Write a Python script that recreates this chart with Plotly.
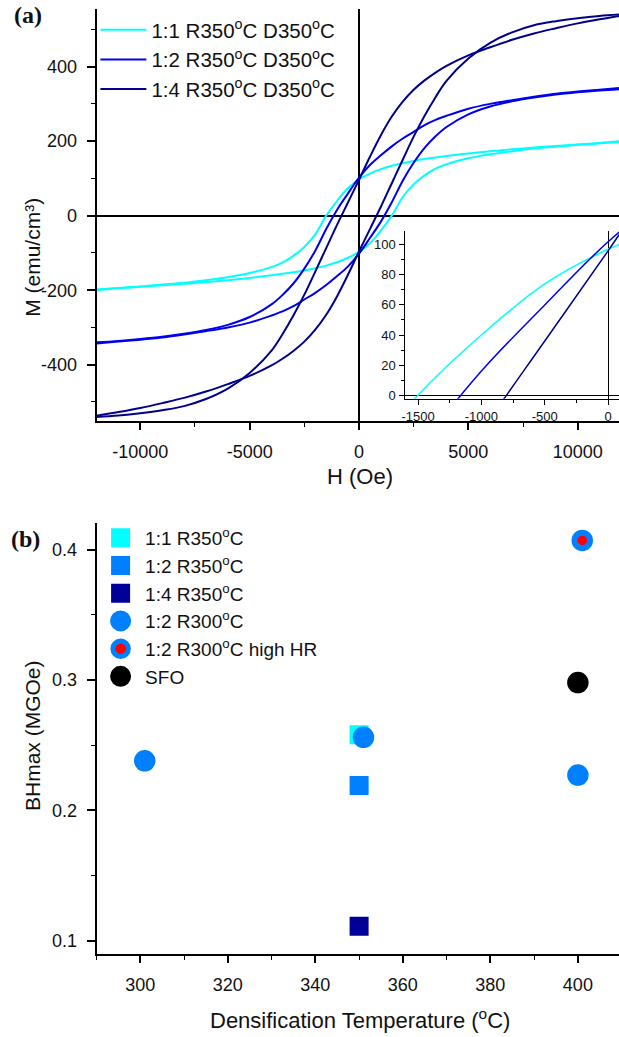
import plotly.graph_objects as go

# ---------------- data: panel (a) hysteresis loops ----------------
H_OE = [-12000, -11000, -10000, -9000, -8000, -7000, -6000, -5000, -4000, -3500, -3000, -2500,
        -2000, -1500, -1000, -500, 0, 500, 1000, 1500, 2000, 2500, 3000, 3500, 4000,
        5000, 6000, 7000, 8000, 9000, 10000, 11000, 12000]

# descending branch (field swept from +12 kOe to -12 kOe), listed in H_OE order
M_11_DOWN = [-198, -194, -190, -185, -180, -173, -165, -154, -138, -126, -108, -84,
             -50, 0, 40, 74, 97, 113, 125, 134, 141, 147, 152, 156, 160,
             167, 173, 178, 183, 187, 191, 195, 200]
M_12_DOWN = [-340, -336, -331, -325, -317, -307, -293, -272, -238, -213, -182, -142,
             -94, -36, 16, 60, 102, 136, 162, 186, 207, 225, 243, 257, 268,
             287, 300, 310, 319, 327, 333, 338, 343]
M_14_DOWN = [-540, -536, -530, -522, -511, -492, -464, -422, -362, -318, -268, -212,
             -150, -87, -24, 36, 96, 158, 216, 266, 306, 338, 363, 384, 402,
             430, 452, 472, 489, 503, 516, 527, 537]
# ascending branch (field swept from -12 kOe to +12 kOe), listed in H_OE order
M_11_UP = [-200, -195, -191, -187, -183, -178, -173, -167, -160, -156, -152, -147,
           -141, -134, -125, -113, -97, -74, -40, 0, 50, 84, 108, 126, 138,
           154, 165, 173, 180, 185, 190, 194, 198]
M_12_UP = [-343, -338, -333, -327, -319, -310, -300, -287, -268, -257, -243, -225,
           -207, -186, -162, -136, -102, -60, -16, 36, 94, 142, 182, 213, 238,
           272, 293, 307, 317, 325, 331, 336, 340]
M_14_UP = [-537, -527, -516, -503, -489, -472, -452, -430, -402, -384, -363, -338,
           -306, -266, -216, -158, -96, -36, 24, 87, 150, 212, 268, 318, 362,
           422, 464, 492, 511, 522, 530, 536, 540]

LOOP_NAMES = ["1:1 R350<sup>o</sup>C D350<sup>o</sup>C",
              "1:2 R350<sup>o</sup>C D350<sup>o</sup>C",
              "1:4 R350<sup>o</sup>C D350<sup>o</sup>C"]
LOOP_COLORS = ["#00FFFF", "#0000F0", "#00008B"]

# tick labels
A_X_TICKS = [-10000, -5000, 0, 5000, 10000]
A_X_LABELS = ["-10000", "-5000", "0", "5000", "10000"]
A_Y_TICKS = [-400, -200, 0, 200, 400]
A_Y_LABELS = ["-400", "-200", "0", "200", "400"]
INSET_X_TICKS = [-1500, -1000, -500, 0]
INSET_X_LABELS = ["-1500", "-1000", "-500", "0"]
INSET_Y_TICKS = [0, 20, 40, 60, 80, 100]

# ---------------- data: panel (b) BHmax ----------------
T_11_R350 = [350];            BH_11_R350 = [0.258]
T_12_R350 = [350];            BH_12_R350 = [0.219]
T_14_R350 = [350];            BH_14_R350 = [0.111]
T_12_R300 = [301, 351, 400];  BH_12_R300 = [0.238, 0.256, 0.227]
T_12_R300_HR = [401];         BH_12_R300_HR = [0.407]
T_SFO = [400];                BH_SFO = [0.298]

W, HGT = 619, 1037
FONT = "Liberation Sans, Arial, sans-serif"
TXT = "#111111"


def fx(p):
    return p / W


def fy(p):
    return 1 - p / HGT


fig = go.Figure()

downs = [M_11_DOWN, M_12_DOWN, M_14_DOWN]
ups = [M_11_UP, M_12_UP, M_14_UP]
for name, col, down, up in zip(LOOP_NAMES, LOOP_COLORS, downs, ups):
    xs = H_OE[::-1] + [None] + H_OE
    ys = down[::-1] + [None] + up
    fig.add_trace(go.Scatter(x=xs, y=ys, mode="lines", name=name,
                             line=dict(color=col, width=2, shape="spline", smoothing=1.0),
                             xaxis="x", yaxis="y", legend="legend"))

# inset: descending branch near the coercive field
for col, down in zip(LOOP_COLORS, downs):
    fig.add_trace(go.Scatter(x=H_OE, y=down, mode="lines", showlegend=False,
                             line=dict(color=col, width=1.5, shape="spline", smoothing=1.0),
                             xaxis="x3", yaxis="y3"))


def pts(x, y, name, symbol, color, size, lcolor=None, lw=5):
    return go.Scatter(x=x, y=y, mode="markers", name=name,
                      marker=dict(symbol=symbol, color=color, size=size,
                                  line=dict(color=lcolor or color, width=lw)),
                      xaxis="x2", yaxis="y2", legend="legend2")


fig.add_trace(pts(T_11_R350, BH_11_R350, "1:1 R350<sup>o</sup>C", "square", "#00FFFF", 14))
fig.add_trace(pts(T_12_R350, BH_12_R350, "1:2 R350<sup>o</sup>C", "square", "#0080FF", 14))
fig.add_trace(pts(T_14_R350, BH_14_R350, "1:4 R350<sup>o</sup>C", "square", "#000099", 14))
fig.add_trace(pts(T_12_R300, BH_12_R300, "1:2 R300<sup>o</sup>C", "circle", "#0080FF", 16.5))
fig.add_trace(pts(T_12_R300_HR, BH_12_R300_HR, "1:2 R300<sup>o</sup>C high HR", "circle",
                  "#FF0000", 15.5, lcolor="#0080FF", lw=6))
fig.add_trace(pts(T_SFO, BH_SFO, "SFO", "circle", "#000000", 16.5))

axis_common = dict(showline=True, linecolor="black", linewidth=2, showgrid=False,
                   ticks="outside", tickcolor="black", tickwidth=1.5,
                   tickfont=dict(family=FONT, size=18, color=TXT))
top_common = dict(showline=True, linecolor="black", linewidth=2, showgrid=False,
                  ticks="inside", tickcolor="black", tickwidth=1.2, ticklen=5,
                  showticklabels=False, zeroline=False, side="top")

XDOM = [fx(93.2), 1.0]

fig.update_layout(
    width=W, height=HGT,
    margin=dict(l=0, r=0, t=0, b=0),
    paper_bgcolor="white", plot_bgcolor="white",
    font=dict(family=FONT, color=TXT),
    # ---- panel (a)
    xaxis=dict(domain=XDOM, range=[-12000, 11890], anchor="y",
               tickmode="array", tickvals=A_X_TICKS, ticktext=A_X_LABELS,
               ticklen=7, ticklabelstandoff=6,
               minor=dict(tick0=0, dtick=2500, ticklen=4, ticks="outside", tickcolor="black", tickwidth=1.2),
               zeroline=True, zerolinecolor="black", zerolinewidth=2, **axis_common),
    yaxis=dict(domain=[fy(422.7), fy(9.3)], range=[-551.2, 553.9], anchor="x",
               tickmode="array", tickvals=A_Y_TICKS, ticktext=A_Y_LABELS,
               ticklen=8, ticklabelstandoff=6,
               minor=dict(tick0=0, dtick=100, ticklen=4, ticks="outside", tickcolor="black", tickwidth=1.2),
               zeroline=True, zerolinecolor="black", zerolinewidth=2, **axis_common),
    xaxis4=dict(overlaying="x", anchor="y", range=[-12000, 11890], tick0=0, dtick=5000,
                minor=dict(tick0=0, dtick=2500, ticklen=3, ticks="inside", tickcolor="black"), **top_common),
    # ---- panel (b)
    xaxis2=dict(domain=XDOM, range=[290, 409.4], anchor="y2", tick0=300, dtick=20,
                ticklen=7, ticklabelstandoff=6, zeroline=False,
                minor=dict(tick0=300, dtick=10, ticklen=4, ticks="outside", tickcolor="black", tickwidth=1.2),
                **axis_common),
    yaxis2=dict(domain=[fy(957.7), fy(525)], range=[0.0898, 0.4204], anchor="x2", tick0=0.1, dtick=0.1,
                tickformat=".1f", ticklen=8, ticklabelstandoff=6, zeroline=False,
                minor=dict(tick0=0.1, dtick=0.05, ticklen=4, ticks="outside", tickcolor="black", tickwidth=1.2),
                **axis_common),
    xaxis5=dict(overlaying="x2", anchor="y2", range=[290, 409.4], tick0=300, dtick=20,
                minor=dict(tick0=300, dtick=10, ticklen=3, ticks="inside", tickcolor="black"), **top_common),
    # ---- inset
    xaxis3=dict(domain=[fx(404), 1.0], range=[-1600, 86], anchor="y3",
                tickmode="array", tickvals=INSET_X_TICKS, ticktext=INSET_X_LABELS,
                showline=True, linecolor="black", linewidth=1, showgrid=False,
                ticks="outside", ticklen=5, tickcolor="black", tickwidth=1,
                minor=dict(tick0=0, dtick=250, ticklen=3, ticks="outside", tickcolor="black"),
                zeroline=True, zerolinecolor="black", zerolinewidth=1,
                tickfont=dict(family=FONT, size=13, color=TXT), ticklabelstandoff=1),
    yaxis3=dict(domain=[fy(400.3), fy(231.7)], range=[-2.4, 109.3], anchor="x3",
                tickmode="array", tickvals=INSET_Y_TICKS,
                showline=True, linecolor="black", linewidth=1, showgrid=False,
                ticks="outside", ticklen=5, tickcolor="black", tickwidth=1,
                minor=dict(tick0=0, dtick=10, ticklen=3, ticks="outside", tickcolor="black"),
                zeroline=True, zerolinecolor="black", zerolinewidth=1,
                tickfont=dict(family=FONT, size=13, color=TXT), ticklabelstandoff=1),
    legend=dict(x=fx(92), y=fy(10), xanchor="left", yanchor="top", bgcolor="rgba(0,0,0,0)",
                font=dict(family=FONT, size=20.5, color=TXT), itemwidth=46,
                tracegroupgap=0),
    legend2=dict(x=fx(92.7), y=fy(521), xanchor="left", yanchor="top", bgcolor="rgba(0,0,0,0)",
                 font=dict(family=FONT, size=19, color=TXT), itemwidth=39, tracegroupgap=0),
)

ann = [
    dict(text="<b>(a)</b>", x=fx(24), y=fy(15), font=dict(family="Liberation Serif, Times New Roman", size=24, color=TXT)),
    dict(text="<b>(b)</b>", x=fx(22), y=fy(541), font=dict(family="Liberation Serif, Times New Roman", size=24, color=TXT)),
    dict(text="M (emu/cm³)", x=fx(28), y=fy(258), textangle=-90, font=dict(family=FONT, size=21, color=TXT)),
    dict(text="H (Oe)", x=fx(358), y=fy(478), font=dict(family=FONT, size=22, color=TXT)),
    dict(text="BHmax (MGOe)", x=fx(28), y=fy(738), textangle=-90, font=dict(family=FONT, size=21, color=TXT)),
    dict(text="Densification Temperature (<sup>o</sup>C)", x=fx(358), y=fy(1023), font=dict(family=FONT, size=22, color=TXT)),
]
for a in ann:
    fig.add_annotation(xref="paper", yref="paper", showarrow=False, xanchor="center", yanchor="middle", **a)

fig.write_html("out.html",
               config={"displayModeBar": False},
               post_script="document.body.style.margin='0';document.body.style.padding='0';"
                           "document.documentElement.style.overflow='hidden';")
